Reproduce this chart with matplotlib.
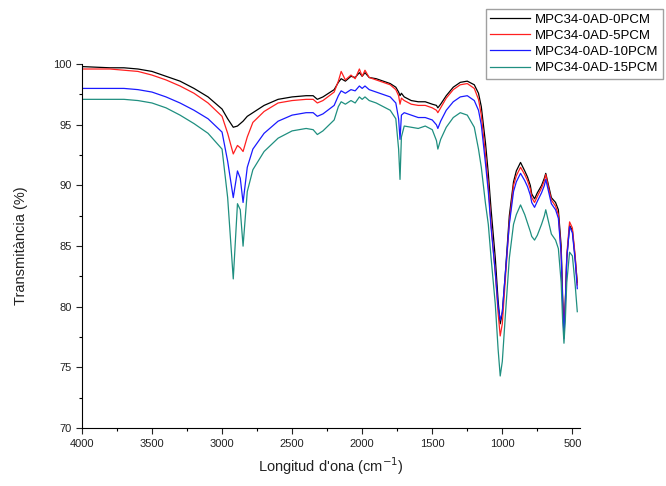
import matplotlib
matplotlib.use("Agg")
import matplotlib.pyplot as plt
from matplotlib.ticker import MultipleLocator

plt.rcParams['font.family'] = ['Liberation Sans', 'DejaVu Sans']

labels = ["MPC34-0AD-0PCM", "MPC34-0AD-5PCM", "MPC34-0AD-10PCM", "MPC34-0AD-15PCM"]
colors = ["#000000", "#ff2020", "#1a1aff", "#1f8f80"]

# wavenumber grid (cm-1) and transmittance values
wn = [4000, 3800, 3700, 3600, 3500, 3400, 3300, 3200, 3100, 3000, 2960, 2920, 2890, 2870,
      2850, 2820, 2780, 2700, 2600, 2500, 2400, 2350, 2320, 2280, 2200, 2170, 2150, 2120,
      2080, 2050, 2020, 2000, 1980, 1950, 1900, 1850, 1800, 1760, 1740, 1730, 1720, 1700,
      1650, 1600, 1550, 1500, 1470, 1460, 1440, 1400, 1350, 1300, 1250, 1200, 1170, 1150,
      1120, 1100, 1080, 1050, 1030, 1015, 1000, 980, 950, 920, 900, 870, 840, 820, 800,
      790, 770, 750, 720, 700, 690, 670, 650, 620, 600, 580, 570, 560, 550, 540, 520, 500,
      480, 465]

t0 = [99.8, 99.7, 99.7, 99.6, 99.4, 99.0, 98.6, 98.0, 97.3, 96.3, 95.5, 94.8, 94.9, 95.1,
      95.3, 95.7, 96.0, 96.6, 97.1, 97.3, 97.4, 97.4, 97.1, 97.3, 97.9, 98.5, 98.8, 98.6,
      99.0, 98.9, 99.3, 99.0, 99.3, 98.9, 98.8, 98.6, 98.4, 98.1, 97.7, 97.4, 97.6, 97.3,
      97.0, 96.9, 96.9, 96.7, 96.6, 96.4, 96.7, 97.4, 98.1, 98.5, 98.6, 98.3, 97.6, 96.5,
      93.5, 91.0, 88.0, 84.0, 80.5, 78.6, 79.5, 82.5, 87.5, 90.3, 91.2, 91.9, 91.2, 90.7,
      90.0, 89.3, 88.9, 89.4, 90.0, 90.6, 91.0, 90.0, 89.0, 88.6, 88.0, 85.0, 81.0, 77.8,
      80.5, 84.0, 86.7, 86.3, 84.0, 82.0]

t5 = [99.6, 99.6, 99.5, 99.4, 99.1, 98.7, 98.2, 97.6, 96.8, 95.7, 94.3, 92.6, 93.3, 93.1,
      92.8, 94.0, 95.2, 96.1, 96.8, 97.0, 97.1, 97.1, 96.8, 97.0, 97.7, 98.6, 99.4, 98.7,
      99.1, 98.8, 99.6, 99.0, 99.5, 98.9, 98.7, 98.5, 98.3, 97.9, 97.4, 96.7, 97.2, 97.0,
      96.7, 96.6, 96.6, 96.4, 96.2, 96.0, 96.4, 97.2, 97.9, 98.3, 98.4, 98.0, 97.1, 95.8,
      92.5, 90.0, 86.8, 82.8, 79.5, 77.6, 78.6, 82.0, 87.0, 90.0, 90.8, 91.5, 90.9, 90.4,
      89.7, 89.0, 88.6, 89.1, 89.8, 90.4, 90.9, 89.8, 88.8, 88.3, 87.6, 84.5, 80.5, 77.6,
      80.5, 84.3, 87.0, 86.5, 84.2, 81.8]

t10 = [98.0, 98.0, 98.0, 97.9, 97.7, 97.3, 96.8, 96.2, 95.5, 94.4, 92.0, 89.0, 91.2, 90.6,
       88.6, 91.5, 93.0, 94.3, 95.3, 95.8, 96.0, 96.0, 95.7, 95.9, 96.6, 97.4, 97.8, 97.6,
       97.9, 97.8, 98.2, 98.0, 98.2, 97.9, 97.7, 97.5, 97.3, 96.8, 95.5, 93.8, 95.8, 96.0,
       95.8, 95.6, 95.6, 95.4, 95.0, 94.7, 95.3, 96.2, 96.9, 97.3, 97.4, 97.0, 96.2, 95.0,
       91.8, 89.5, 86.5, 82.8, 80.0, 78.9, 79.6, 82.5, 86.8, 89.5, 90.3, 91.0, 90.4, 89.9,
       89.2, 88.6, 88.2, 88.7, 89.4, 90.0, 90.5, 89.5, 88.5, 88.0, 87.3, 84.3, 80.5, 77.4,
       80.3, 84.0, 86.6, 86.1, 83.8, 81.5]

t15 = [97.1, 97.1, 97.1, 97.0, 96.8, 96.4, 95.8, 95.1, 94.3, 93.0, 89.0, 82.3, 88.5, 88.0,
       85.0, 89.5, 91.3, 92.8, 93.9, 94.5, 94.7, 94.6, 94.2, 94.5, 95.4, 96.5, 96.9, 96.7,
       97.0, 96.8, 97.3, 97.1, 97.3, 97.0, 96.8, 96.5, 96.2, 95.5, 93.0, 90.5, 94.0, 94.9,
       94.8, 94.7, 94.9, 94.6, 93.7, 93.0, 93.8, 94.8, 95.6, 96.0, 95.8, 94.8, 93.0, 91.5,
       88.5, 86.8, 84.0, 80.2, 76.5, 74.3, 75.5, 79.0, 84.0, 86.8, 87.6, 88.4, 87.6, 86.9,
       86.2, 85.8, 85.5, 85.9, 86.8, 87.5, 88.0, 87.0, 86.0, 85.5, 84.8, 82.0, 79.0, 77.0,
       79.0, 82.0, 84.5, 84.2, 81.8, 79.6]

series = [t0, t5, t10, t15]

fig = plt.figure(figsize=(6.66, 4.86), dpi=100)
ax = fig.add_axes([0.123, 0.119, 0.748, 0.749])

handles = []
for vals, lab, col in zip(series, labels, colors):
    h, = ax.plot(wn, vals, color=col, lw=0.9, label=lab)
    handles.append(h)

ax.set_xlim(4000, 445)
ax.set_ylim(70, 100)
ax.xaxis.set_major_locator(MultipleLocator(500))
ax.xaxis.set_minor_locator(MultipleLocator(250))
ax.yaxis.set_major_locator(MultipleLocator(5))
ax.yaxis.set_minor_locator(MultipleLocator(2.5))
ax.spines['top'].set_visible(False)
ax.spines['right'].set_visible(False)
ax.tick_params(axis='both', which='major', direction='out', length=4, width=0.8,
               labelsize=8, colors='#222222')
ax.tick_params(axis='both', which='minor', direction='out', length=2.5, width=0.8)
ax.set_xlabel("Longitud d'ona (cm$^{-1}$)", fontsize=10.5, color='#222222', labelpad=5)
ax.set_ylabel("Transmitància (%)", fontsize=10.5, color='#222222', labelpad=18)

fig.legend(handles=handles, labels=labels, loc='upper right',
           bbox_to_anchor=(0.996, 0.982), fontsize=9.5, frameon=True,
           fancybox=False, edgecolor='#888888', handlelength=3.0,
           borderpad=0.35, labelspacing=0.3, handletextpad=0.4, borderaxespad=0)

fig.savefig("out.png", dpi=100)
